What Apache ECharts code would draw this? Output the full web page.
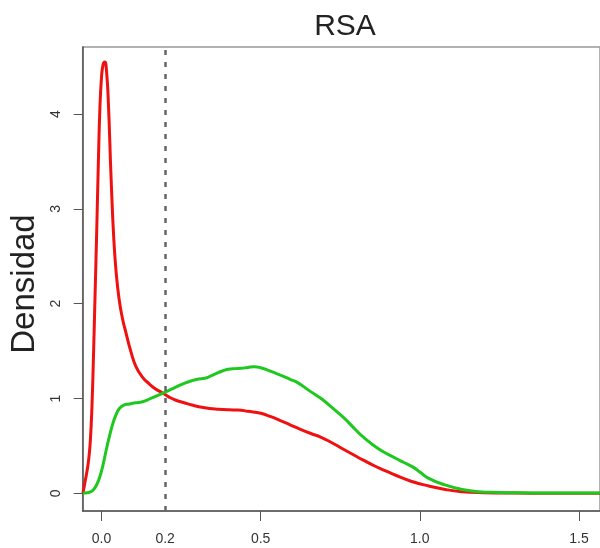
<!DOCTYPE html>
<html><head><meta charset="utf-8">
<script src="https://cdn.jsdelivr.net/npm/echarts@6/dist/echarts.min.js"></script>
<style>html,body{margin:0;padding:0;background:#fff}#c{width:600px;height:548px}</style>
</head><body><div id="c"></div>
<script>
const titleText = 'RSA';
const yLabel = 'Densidad';
const xTickValues = [0, 0.5, 1.0, 1.5];
const xLabelValues = [0, 0.2, 0.5, 1.0, 1.5];
const yTickValues = [0, 1, 2, 3, 4];
const cutoff = 0.2;

const redX = [-0.058, -0.05, -0.045, -0.04, -0.035, -0.03, -0.025, -0.02, -0.015, -0.01, -0.005, 0.0, 0.005, 0.0105, 0.016, 0.022, 0.03, 0.039, 0.047, 0.055, 0.065, 0.078, 0.092, 0.108, 0.13, 0.15, 0.17, 0.191, 0.21, 0.232, 0.26, 0.284, 0.32, 0.367, 0.40, 0.429, 0.46, 0.501, 0.532, 0.56, 0.594, 0.625, 0.656, 0.69, 0.718, 0.76, 0.80, 0.821, 0.86, 0.90, 0.924, 0.97, 1.028, 1.08, 1.131, 1.20, 1.30, 1.40, 1.50, 1.566];
const redY = [0, 0.15, 0.24, 0.36, 0.55, 0.9, 1.45, 2.1, 2.75, 3.45, 4.05, 4.38, 4.52, 4.55, 4.45, 4.1, 3.35, 2.67, 2.3, 2.06, 1.86, 1.68, 1.5, 1.34, 1.22, 1.155, 1.1, 1.06, 1.02, 0.984, 0.955, 0.931, 0.905, 0.886, 0.88, 0.879, 0.865, 0.844, 0.808, 0.77, 0.72, 0.675, 0.633, 0.59, 0.544, 0.465, 0.39, 0.352, 0.285, 0.225, 0.19, 0.13, 0.077, 0.04, 0.017, 0.006, 0.002, 0.001, 0.0, 0.0];

const greenX = [-0.058, -0.045, -0.035, -0.026, -0.015, -0.005, 0.005, 0.015, 0.025, 0.036, 0.046, 0.057, 0.07, 0.088, 0.108, 0.129, 0.155, 0.181, 0.205, 0.232, 0.26, 0.284, 0.305, 0.325, 0.356, 0.38, 0.398, 0.42, 0.439, 0.46, 0.48, 0.50, 0.522, 0.56, 0.594, 0.615, 0.656, 0.69, 0.718, 0.76, 0.80, 0.821, 0.87, 0.924, 0.95, 0.976, 1.0, 1.028, 1.079, 1.131, 1.183, 1.25, 1.30, 1.40, 1.50, 1.566];
const greenY = [0, 0.005, 0.015, 0.035, 0.09, 0.175, 0.3, 0.457, 0.6, 0.738, 0.83, 0.897, 0.93, 0.942, 0.955, 0.966, 1.0, 1.037, 1.075, 1.118, 1.16, 1.188, 1.205, 1.213, 1.258, 1.29, 1.308, 1.315, 1.318, 1.328, 1.335, 1.325, 1.30, 1.25, 1.2, 1.17, 1.075, 1.0, 0.921, 0.80, 0.665, 0.597, 0.47, 0.369, 0.325, 0.281, 0.225, 0.158, 0.088, 0.042, 0.017, 0.008, 0.005, 0.003, 0.002, 0.002];

const zip = (a, b) => a.map((v, i) => [v, b[i]]);
const FONT = '"Liberation Sans", Arial, Helvetica, sans-serif';
const chart = echarts.init(document.getElementById('c'), null, {renderer: 'canvas'});
chart.setOption({
  animation: false,
  backgroundColor: '#fff',
  grid: {left: 82.7, top: 47, width: 524, height: 464, show: true, borderColor: '#999', borderWidth: 1.5, backgroundColor: 'transparent'},
  xAxis: {
    type: 'value', min: -0.0589, max: 1.566,
    axisLine: {show: true, onZero: false, lineStyle: {color: '#555', width: 1.5}},
    axisTick: {show: true, customValues: xTickValues, length: 10, lineStyle: {color: '#555', width: 1}},
    axisLabel: {customValues: xLabelValues, formatter: v => Number(v).toFixed(1), fontSize: 14, color: '#333', margin: 21, fontFamily: FONT},
    splitLine: {show: false}
  },
  yAxis: {
    type: 'value', min: -0.187, max: 4.708,
    axisLine: {show: true, onZero: false, lineStyle: {color: '#555', width: 1.5}},
    axisTick: {show: true, customValues: yTickValues, length: 9, lineStyle: {color: '#555', width: 1}},
    axisLabel: {customValues: yTickValues, rotate: 90, fontSize: 14, color: '#333', margin: 20, fontFamily: FONT},
    splitLine: {show: false}
  },
  series: [
    {type: 'line', data: zip(redX, redY), showSymbol: false, smooth: 0.5, lineStyle: {color: '#f01010', width: 3, join: 'round'}, z: 3},
    {type: 'line', data: zip(greenX, greenY), showSymbol: false, smooth: 0.5, lineStyle: {color: '#1ec81e', width: 3, join: 'round'}, z: 4,
     markLine: {symbol: 'none', silent: true, label: {show: false}, lineStyle: {type: [5, 7], color: '#666', width: 2.5}, data: [{xAxis: cutoff}]}}
  ],
  graphic: [
    {type: 'text', x: 345, y: 27, style: {text: titleText, font: '30px ' + FONT, fill: '#222', textAlign: 'center', textVerticalAlign: 'middle'}},
    {type: 'text', x: 25, y: 284, rotation: Math.PI / 2, style: {text: yLabel, font: '33px ' + FONT, fill: '#222', textAlign: 'center', textVerticalAlign: 'middle'}}
  ]
});
</script></body></html>
